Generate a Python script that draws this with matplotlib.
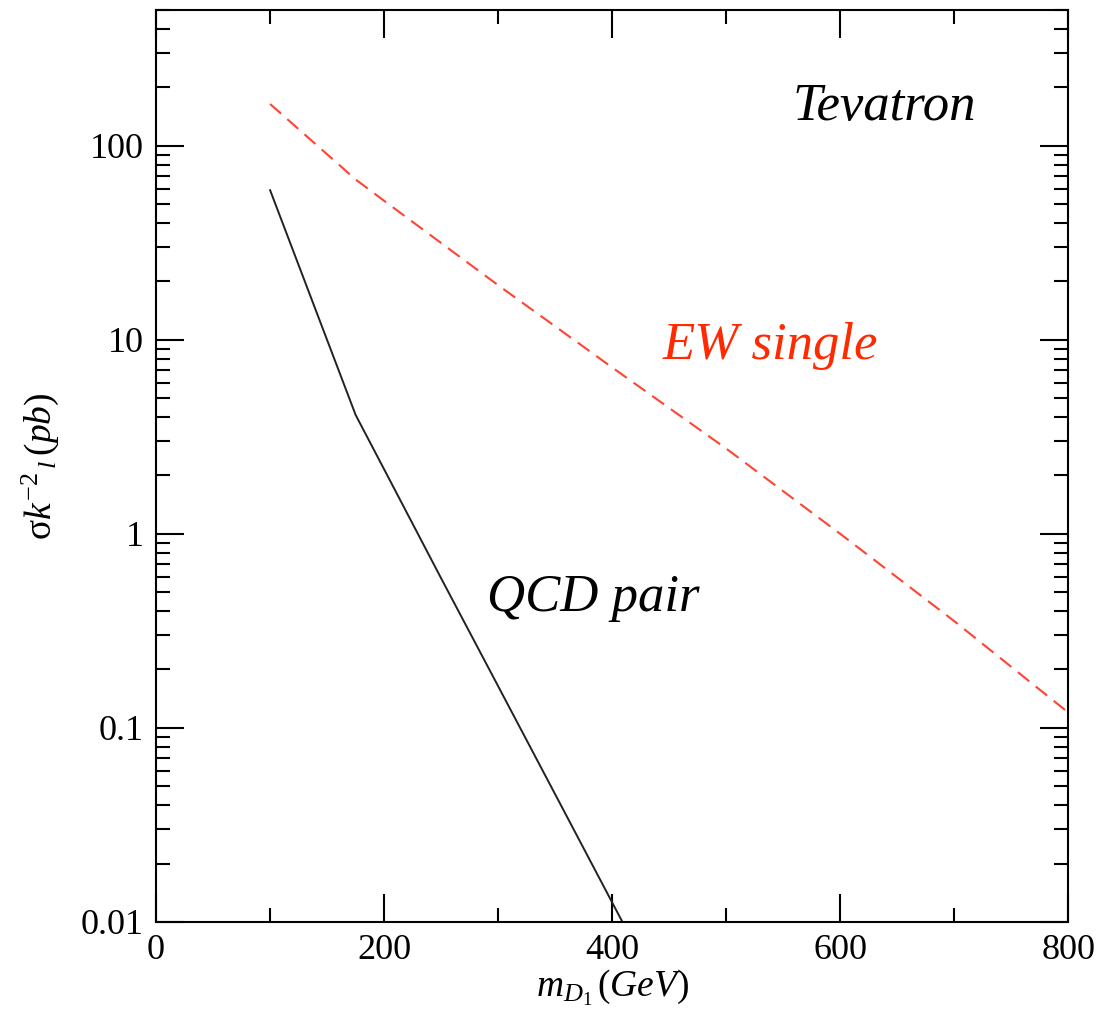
import matplotlib
matplotlib.use('Agg')
import matplotlib.pyplot as plt
from matplotlib.ticker import FixedLocator, LogLocator, NullFormatter

# fonts: Times-like serif, italic math
plt.rcParams['font.family'] = 'Liberation Serif'
plt.rcParams['mathtext.fontset'] = 'custom'
plt.rcParams['mathtext.rm'] = 'Liberation Serif'
plt.rcParams['mathtext.it'] = 'Liberation Serif:italic'

# EW single production (red dashed)
ew_mass = [100, 175, 200, 300, 400, 500, 600, 700, 800]
ew_sigma = [164, 67, 52, 19.1, 7.2, 2.75, 1.0, 0.355, 0.12]

# QCD pair production (black solid)
qcd_mass = [100, 175, 200, 250, 300, 350, 400, 450]
qcd_sigma = [59, 4.1, 2.15, 0.59, 0.164, 0.0455, 0.0126, 0.0035]

x_ticks = [0, 200, 400, 600, 800]
x_minor = [100, 300, 500, 700]
y_ticks = [0.01, 0.1, 1, 10, 100]
y_tick_labels = ['0.01', '0.1', '1', '10', '100']

fig = plt.figure(figsize=(11.07, 10.26), dpi=100)
ax = fig.add_axes([0.141, 0.1014, 0.824, 0.8888])

ax.plot(ew_mass, ew_sigma, color='#ff4433', lw=1.5, dashes=(7, 4))
ax.plot(qcd_mass, qcd_sigma, color='#222222', lw=1.4)

ax.set_yscale('log')
ax.set_xlim(0, 800)
ax.set_ylim(0.01, 500)

ax.xaxis.set_major_locator(FixedLocator(x_ticks))
ax.xaxis.set_minor_locator(FixedLocator(x_minor))
ax.set_yticks(y_ticks)
ax.set_yticklabels(y_tick_labels)
ax.yaxis.set_minor_locator(LogLocator(base=10, subs=range(2, 10)))
ax.yaxis.set_minor_formatter(NullFormatter())

ax.tick_params(which='both', direction='in', top=True, right=True, width=1.5, labelsize=26)
ax.tick_params(which='major', length=20, pad=9)
ax.tick_params(which='minor', length=10)
for s in ax.spines.values():
    s.set_linewidth(1.5)

ax.set_xlabel(r'$m_{D_1}\,(GeV)$', fontsize=27, labelpad=0)
ax.set_ylabel(r'$\mathrm{\sigma}k^{-2}{}_{\,l}\,(pb)$', fontsize=27, labelpad=14)

ax.text(639, 136, 'Tevatron', fontsize=38, style='italic', ha='center', va='baseline')
ax.text(539, 8.0, 'EW single', fontsize=38, style='italic', color='#ff2a00', ha='center', va='baseline')
ax.text(383, 0.40, 'QCD pair', fontsize=38, style='italic', ha='center', va='baseline')

fig.savefig('out.png', dpi=100)
